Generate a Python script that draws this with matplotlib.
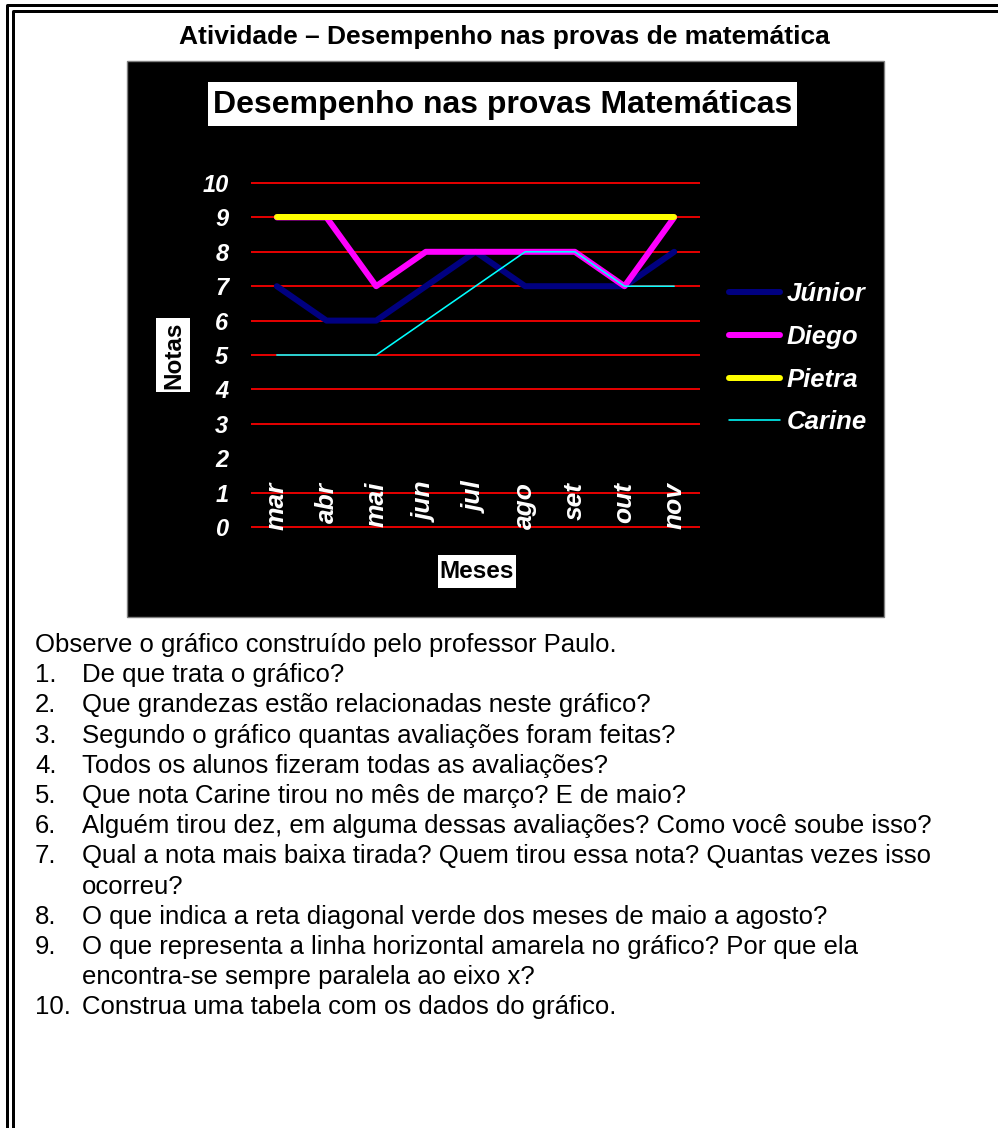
import matplotlib
matplotlib.use("Agg")
import matplotlib.pyplot as plt
from matplotlib.patches import Rectangle
from matplotlib.lines import Line2D

plt.rcParams['font.family'] = ['Liberation Sans', 'DejaVu Sans']

# chart data
meses = ["mar", "abr", "mai", "jun", "jul", "ago", "set", "out", "nov"]
junior = [7, 6, 6, 7, 8, 7, 7, 7, 8]
diego = [9, 9, 7, 8, 8, 8, 8, 7, 9]
pietra = [9, 9, 9, 9, 9, 9, 9, 9, 9]
carine = [5, 5, 5, 6, 7, 8, 8, 7, 7]
nomes = ["Júnior", "Diego", "Pietra", "Carine"]
notas_ticks = [0, 1, 2, 3, 4, 5, 6, 7, 8, 9, 10]
grid_levels = [0, 1, 3, 4, 5, 6, 7, 8, 9, 10]

titulo_atividade = "Atividade – Desempenho nas provas de matemática"
titulo_grafico = "Desempenho nas provas Matemáticas"

perguntas = [
    ("", "Observe o gráfico construído pelo professor Paulo."),
    ("1.", "De que trata o gráfico?"),
    ("2.", "Que grandezas estão relacionadas neste gráfico?"),
    ("3.", "Segundo o gráfico quantas avaliações foram feitas?"),
    ("4.", "Todos os alunos fizeram todas as avaliações?"),
    ("5.", "Que nota Carine tirou no mês de março? E de maio?"),
    ("6.", "Alguém tirou dez, em alguma dessas avaliações? Como você soube isso?"),
    ("7.", "Qual a nota mais baixa tirada? Quem tirou essa nota? Quantas vezes isso"),
    ("", "ocorreu?"),
    ("8.", "O que indica a reta diagonal verde dos meses de maio a agosto?"),
    ("9.", "O que representa a linha horizontal amarela no gráfico? Por que ela"),
    ("", "encontra-se sempre paralela ao eixo x?"),
    ("10.", "Construa uma tabela com os dados do gráfico."),
]

W, H = 998, 1128
fig = plt.figure(figsize=(W / 100, H / 100), dpi=100)

# page layer in pixel coordinates
page = fig.add_axes([0, 0, 1, 1])
page.set_xlim(0, W)
page.set_ylim(H, 0)
page.axis("off")

px = 0.72  # points per pixel

# double frame (left and top)
page.plot([7, 7, W], [H, 4.5, 4.5], color="black", lw=3 * px, solid_capstyle="butt")
page.plot([13, 13, W], [H, 10.5, 10.5], color="black", lw=3 * px, solid_capstyle="butt")

page.text(504, 37, titulo_atividade, ha="center", va="center",
          fontsize=19, fontweight="bold")

# black chart background
page.add_patch(Rectangle((127, 61), 757, 556, facecolor="black",
                         edgecolor="#808080", lw=1))

page.add_patch(Rectangle((208, 82), 589, 44, facecolor="white", edgecolor="none"))
page.text(503, 105, titulo_grafico, ha="center", va="center",
          fontsize=23, fontweight="bold")

page.add_patch(Rectangle((156, 318), 34, 74, facecolor="white", edgecolor="none"))
page.text(174, 355, "Notas", ha="center", va="center", rotation=90,
          fontsize=17.5, fontweight="bold")

page.add_patch(Rectangle((438, 555), 78, 33, facecolor="white", edgecolor="none"))
page.text(477, 572, "Meses", ha="center", va="center",
          fontsize=17.5, fontweight="bold")

# questions below the chart
y0, dy = 652, 30.2
for i, (num, txt) in enumerate(perguntas):
    y = y0 + i * dy
    if i == 0:
        page.text(35, y, txt, ha="left", va="baseline", fontsize=18.5)
        continue
    if num:
        page.text(35, y, num, ha="left", va="baseline", fontsize=18.5)
    page.text(82, y, txt, ha="left", va="baseline", fontsize=18.5)

# plot area
ax = fig.add_axes([252 / W, 1 - 527 / H, (699 - 252) / W, (527 - 183) / H])
ax.set_facecolor("none")
ax.set_xlim(-0.5, len(meses) - 0.5)
ax.set_ylim(0, 10)
for s in ax.spines.values():
    s.set_visible(False)

for g in grid_levels:
    ax.axhline(g, color="#e00000", lw=2 * px, zorder=1, clip_on=False)

x = range(len(meses))
series = [junior, diego, pietra, carine]
cores = ["#000080", "#ff00ff", "#ffff00", "#00ffff"]
larguras = [6 * px, 6 * px, 6 * px, 1.6 * px]
for vals, cor, lw, nome in zip(series, cores, larguras, nomes):
    ax.plot(x, vals, color=cor, lw=lw, label=nome, zorder=3,
            solid_capstyle="round", solid_joinstyle="round", clip_on=False)

ax.set_xticks([])
ax.set_yticks(notas_ticks)
ax.set_yticklabels([str(v) for v in notas_ticks], color="white",
                   fontsize=17, fontweight="bold", fontstyle="italic")
ax.tick_params(axis="y", length=0, pad=17)

for i, m in enumerate(meses):
    ax.text(i, 1.31, m, rotation=90, ha="center", va="top", color="white",
            fontsize=19, fontweight="bold", fontstyle="italic", zorder=4)

handles = [Line2D([], [], color=c, lw=lw, solid_capstyle="round")
           for c, lw in zip(cores, larguras)]
leg = ax.legend(handles, nomes, loc="upper left",
                bbox_to_anchor=(729 / W, 1 - 282 / H),
                bbox_transform=fig.transFigure, frameon=False,
                prop={"size": 18.5, "weight": "bold", "style": "italic"},
                labelcolor="white", handlelength=2.0, handletextpad=0.25,
                labelspacing=0.73, borderpad=0, borderaxespad=0)

fig.savefig("out.png", dpi=100)
